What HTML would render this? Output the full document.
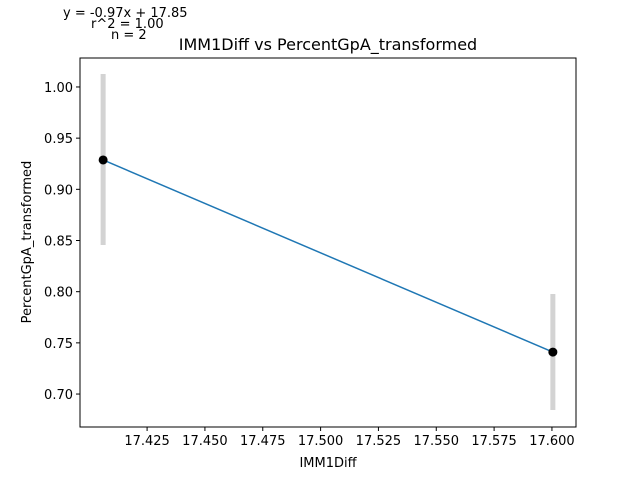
<!DOCTYPE html>
<html><head><meta charset="utf-8"><style>
body{margin:0;background:#fff}
svg{font-family:"DejaVu Sans","Liberation Sans",sans-serif}
</style></head><body>
<svg id="chart" width="640" height="480">
<rect width="640" height="480" fill="#fff"/>
<text x="63" y="17" font-size="13">y = -0.97x + 17.85</text>
<text x="91" y="28" font-size="13">r^2 = 1.00</text>
<text x="111" y="39" font-size="13">n = 2</text>
<text x="328" y="50" font-size="16" text-anchor="middle">IMM1Diff vs PercentGpA_transformed</text>
<text x="328" y="467" font-size="13" text-anchor="middle">IMM1Diff</text>
<text transform="translate(31,242) rotate(-90)" font-size="13" text-anchor="middle">PercentGpA_transformed</text>
<g id="plot"></g>
</svg>
<script>
const xs=[17.406,17.6004];
const ys=[0.9287,0.741];
const errLow=[0.8456,0.6844];
const errHigh=[1.0127,0.7977];
const xTicks=[17.425,17.450,17.475,17.500,17.525,17.550,17.575,17.600];
const yTicks=[0.70,0.75,0.80,0.85,0.90,0.95,1.00];
const L=80,R=576,T=58,B=427;
const x0=17.3960,x1=17.6104,y0=0.6678,y1=1.0283;
const sx=v=>L+(v-x0)/(x1-x0)*(R-L);
const sy=v=>B-(v-y0)/(y1-y0)*(B-T);
const NS="http://www.w3.org/2000/svg";
const g=document.getElementById('plot');
function mk(t,a){const e=document.createElementNS(NS,t);for(const k in a)e.setAttribute(k,a[k]);g.appendChild(e);return e;}
xs.forEach((v,i)=>{
 const e=mk('line',{x1:sx(v),x2:sx(v),y1:sy(errLow[i]),y2:sy(errHigh[i]),stroke:'#d3d3d3','stroke-width':5});
 
 
});
let d=xs.map((v,i)=>(i?'L':'M')+sx(v)+','+sy(ys[i])).join(' ');
const ln=mk('path',{d:d,stroke:'#1f77b4','stroke-width':1.5,fill:'none'});


xs.forEach((v,i)=>{
 const c=mk('circle',{cx:sx(v),cy:sy(ys[i]),r:4.5,fill:'#000'});
 
 
});
const fr=mk('rect',{x:L,y:T,width:R-L,height:B-T,fill:'none',stroke:'#000','stroke-width':1});


xTicks.forEach(v=>{
 const t=mk('line',{x1:sx(v),x2:sx(v),y1:B,y2:B+4,stroke:'#000'});
 
 
 const l=mk('text',{x:sx(v),y:B+18,'font-size':13,'text-anchor':'middle'});
 l.textContent=v.toFixed(3);
 
 
});
yTicks.forEach(v=>{
 const t=mk('line',{x1:L-4,x2:L,y1:sy(v),y2:sy(v),stroke:'#000'});
 
 
 const l=mk('text',{x:L-7,y:sy(v)+5,'font-size':13,'text-anchor':'end'});
 l.textContent=v.toFixed(2);
 
 
});
</script>
</body></html>
